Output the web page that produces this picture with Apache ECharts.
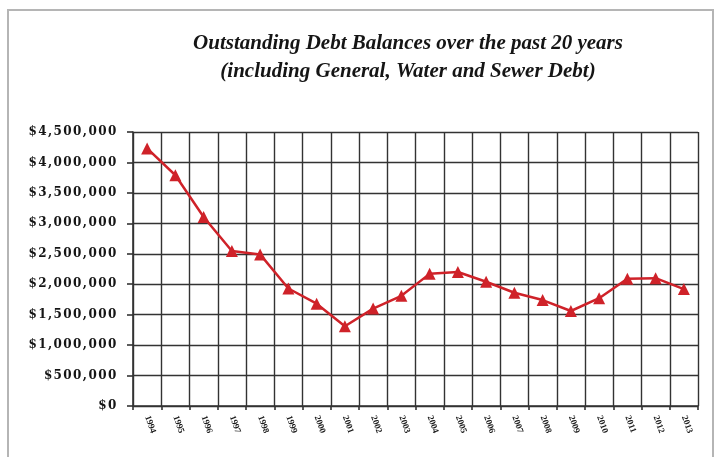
<!DOCTYPE html>
<html>
<head>
<meta charset="utf-8">
<script src="https://cdn.jsdelivr.net/npm/echarts@6/dist/echarts.min.js"></script>
<style>
  html, body { margin: 0; padding: 0; background: #fff; }
  #chart { width: 715px; height: 457px; }
</style>
</head>
<body>
<div id="chart"></div>
<script>
// Fiscal years shown along the bottom axis
const years = ['1994', '1995', '1996', '1997', '1998', '1999', '2000', '2001', '2002', '2003',
               '2004', '2005', '2006', '2007', '2008', '2009', '2010', '2011', '2012', '2013'];

// Outstanding debt balance at year end (dollars)
const debtBalance = [4230000, 3790000, 3105000, 2546000, 2490000, 1930000, 1680000, 1310000, 1600000, 1810000,
                     2170000, 2200000, 2040000, 1860000, 1740000, 1560000, 1770000, 2090000, 2100000, 1920000];

const titleLines = ['Outstanding Debt Balances over the past 20 years',
                    '(including General, Water and Sewer Debt)'];

const chart = echarts.init(document.getElementById('chart'), null, { renderer: 'canvas' });

// Dollar label with a little extra spacing between characters
function dollarLabel(v) {
  const s = '$' + Math.round(v).toLocaleString('en-US');
  return s.split('').map(function (c) { return '{s|' + c + '}'; }).join('');
}

const gridColor = '#333333';

chart.setOption({
  backgroundColor: '#ffffff',
  animation: false,
  title: {
    text: titleLines.join('\n'),
    left: 403,
    top: 25,
    textAlign: 'center',
    textStyle: {
      fontFamily: 'Liberation Serif',
      fontStyle: 'italic',
      fontWeight: 'bold',
      fontSize: 21,
      lineHeight: 28,
      color: '#151515'
    }
  },
  graphic: [{
    type: 'rect',
    shape: { x: 8, y: 10, width: 705, height: 470 },
    style: { fill: 'none', stroke: '#b5b5b5', lineWidth: 2 },
    silent: true
  }],
  grid: { left: 133, right: 17, top: 132, bottom: 51, containLabel: false },
  xAxis: {
    type: 'category',
    data: years,
    boundaryGap: true,
    axisLine: { show: true, lineStyle: { color: gridColor, width: 1.6 } },
    axisTick: { show: true, length: 4, interval: 0, lineStyle: { color: gridColor, width: 1.6 } },
    splitLine: { show: true, interval: 0, lineStyle: { color: gridColor, width: 1.4 } },
    axisLabel: {
      interval: 0,
      rotate: -70,
      margin: 10,
      fontFamily: 'Liberation Serif',
      fontWeight: 'bold',
      fontSize: 9,
      color: '#1a1a1a'
    }
  },
  yAxis: {
    type: 'value',
    min: 0,
    max: 4500000,
    interval: 500000,
    axisLine: { show: true, lineStyle: { color: gridColor, width: 1.6 } },
    axisTick: { show: true, length: 6, lineStyle: { color: gridColor, width: 1.6 } },
    splitLine: { show: true, lineStyle: { color: gridColor, width: 1.4 } },
    axisLabel: {
      margin: 16,
      formatter: dollarLabel,
      rich: {
        s: {
          fontFamily: 'DejaVu Serif',
          fontWeight: 'bold',
          fontSize: 12,
          color: '#151515',
          padding: [0, 0.7]
        }
      }
    }
  },
  series: [{
    type: 'line',
    data: debtBalance,
    symbol: 'triangle',
    symbolSize: 12,
    lineStyle: { color: '#cf2229', width: 2.5 },
    itemStyle: { color: '#cf2229' }
  }]
});
</script>
</body>
</html>
